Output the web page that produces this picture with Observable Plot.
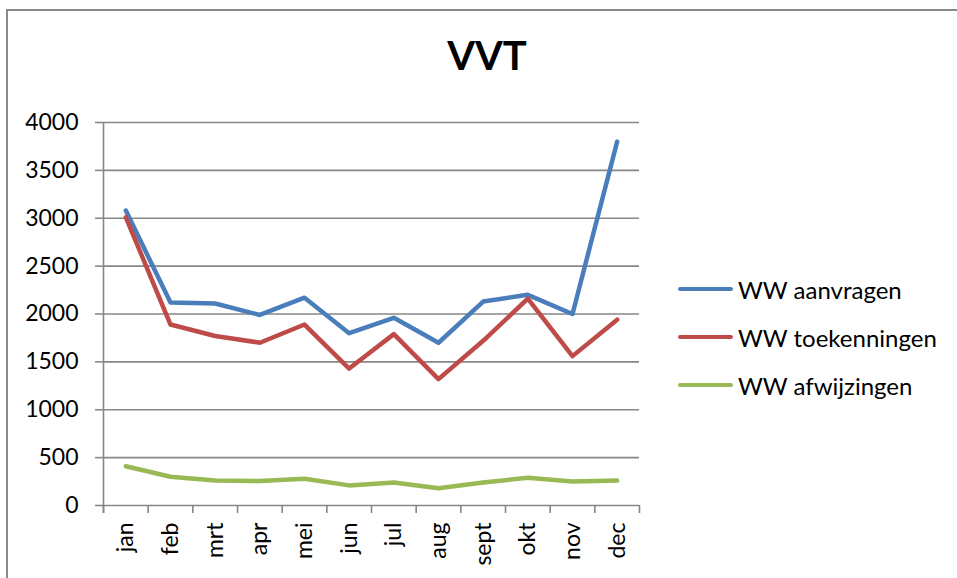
<!DOCTYPE html>
<html>
<head>
<meta charset="utf-8">
<script src="https://cdn.jsdelivr.net/npm/d3@7"></script>
<script src="https://cdn.jsdelivr.net/npm/@observablehq/plot@0.6"></script>
<style>
  html, body { margin: 0; padding: 0; background: #fff; }
  #wrap { position: relative; width: 957px; height: 578px; overflow: hidden; font-family: Lato, "Open Sans", sans-serif; }
  #frame { position: absolute; left: 6px; top: 9px; width: 960px; height: 600px; border-left: 2px solid #8a8a8a; border-top: 2px solid #8a8a8a; }
  #title { position: absolute; left: 0; width: 974px; top: 30px; text-align: center; font-weight: bold; font-size: 40px; line-height: 50px; color: #000; }
  .leg { position: absolute; left: 678px; height: 30px; display: flex; align-items: center; font-size: 24px; color: #000; white-space: nowrap; }
  .leg .sw { width: 55px; height: 4.5px; border-radius: 3px; margin-right: 5px; }
  #chart { position: absolute; left: 0; top: 0; }
  #chart svg g[aria-label^="y-axis"] line,
  #chart svg g[aria-label="y-axis tick"] path { stroke: #878787; stroke-width: 1.6; }
</style>
</head>
<body>
<div id="wrap">
  <div id="frame"></div>
  <div id="title"></div>
  <div id="chart"></div>
  <div id="legend"></div>
</div>
<script>
const chartTitle = "VVT";
const months = ["jan","feb","mrt","apr","mei","jun","jul","aug","sept","okt","nov","dec"];
const seriesNames = ["WW aanvragen", "WW toekenningen", "WW afwijzingen"];
const aanvragen    = [3080, 2120, 2110, 1990, 2170, 1800, 1960, 1700, 2130, 2200, 2000, 3800];
const toekenningen = [3010, 1890, 1770, 1700, 1890, 1430, 1790, 1320, 1720, 2160, 1560, 1940];
const afwijzingen  = [410, 300, 260, 255, 280, 210, 240, 180, 240, 290, 250, 260];
const yTicks = [0, 500, 1000, 1500, 2000, 2500, 3000, 3500, 4000];
const seriesColors = ["#4A7EBB", "#BE4B48", "#98B954"];

const seriesValues = [aanvragen, toekenningen, afwijzingen];
const data = seriesNames.flatMap((s, k) =>
  months.map((m, i) => ({series: s, month: m, value: seriesValues[k][i]}))
);
const xPos = m => months.indexOf(m) + 0.5;
const bounds = d3.range(months.length + 1);
const grid = "#878787";

const chart = Plot.plot({
  width: 957,
  height: 578,
  marginLeft: 103,
  marginRight: 318,
  marginTop: 122,
  marginBottom: 73,
  style: {fontFamily: "Lato, 'Open Sans', sans-serif", fontSize: "23px", color: "#000", background: "transparent", overflow: "visible"},
  x: {type: "linear", domain: [0, months.length], ticks: months.map(xPos), tickFormat: v => months[Math.round(v - 0.5)], tickSize: 0, tickPadding: 17, tickRotate: -90, label: null},
  y: {domain: [0, 4000], ticks: yTicks, tickSize: 8, tickPadding: 17, tickFormat: d3.format("d"), label: null},
  color: {domain: seriesNames, range: seriesColors},
  marks: [
    Plot.ruleY(yTicks, {stroke: grid, strokeWidth: 1.6}),
    Plot.ruleX([0], {y1: -84, y2: 4000, stroke: grid, strokeWidth: 1.6}),
    Plot.ruleX(bounds, {y1: 0, y2: -84, stroke: grid, strokeWidth: 1.6}),
    Plot.line(data, {x: d => xPos(d.month), y: "value", stroke: "series", z: "series", strokeWidth: 4.5, strokeLinejoin: "round", strokeLinecap: "round"})
  ]
});
document.getElementById("chart").appendChild(chart);
document.getElementById("title").textContent = chartTitle;

const legendTops = [274, 322, 370];
const legend = document.getElementById("legend");
seriesNames.forEach((s, k) => {
  const row = document.createElement("div");
  row.className = "leg";
  row.style.top = legendTops[k] + "px";
  const sw = document.createElement("div");
  sw.className = "sw";
  sw.style.background = seriesColors[k];
  const tx = document.createElement("span");
  tx.textContent = s;
  row.appendChild(sw);
  row.appendChild(tx);
  legend.appendChild(row);
});
</script>
</body>
</html>
